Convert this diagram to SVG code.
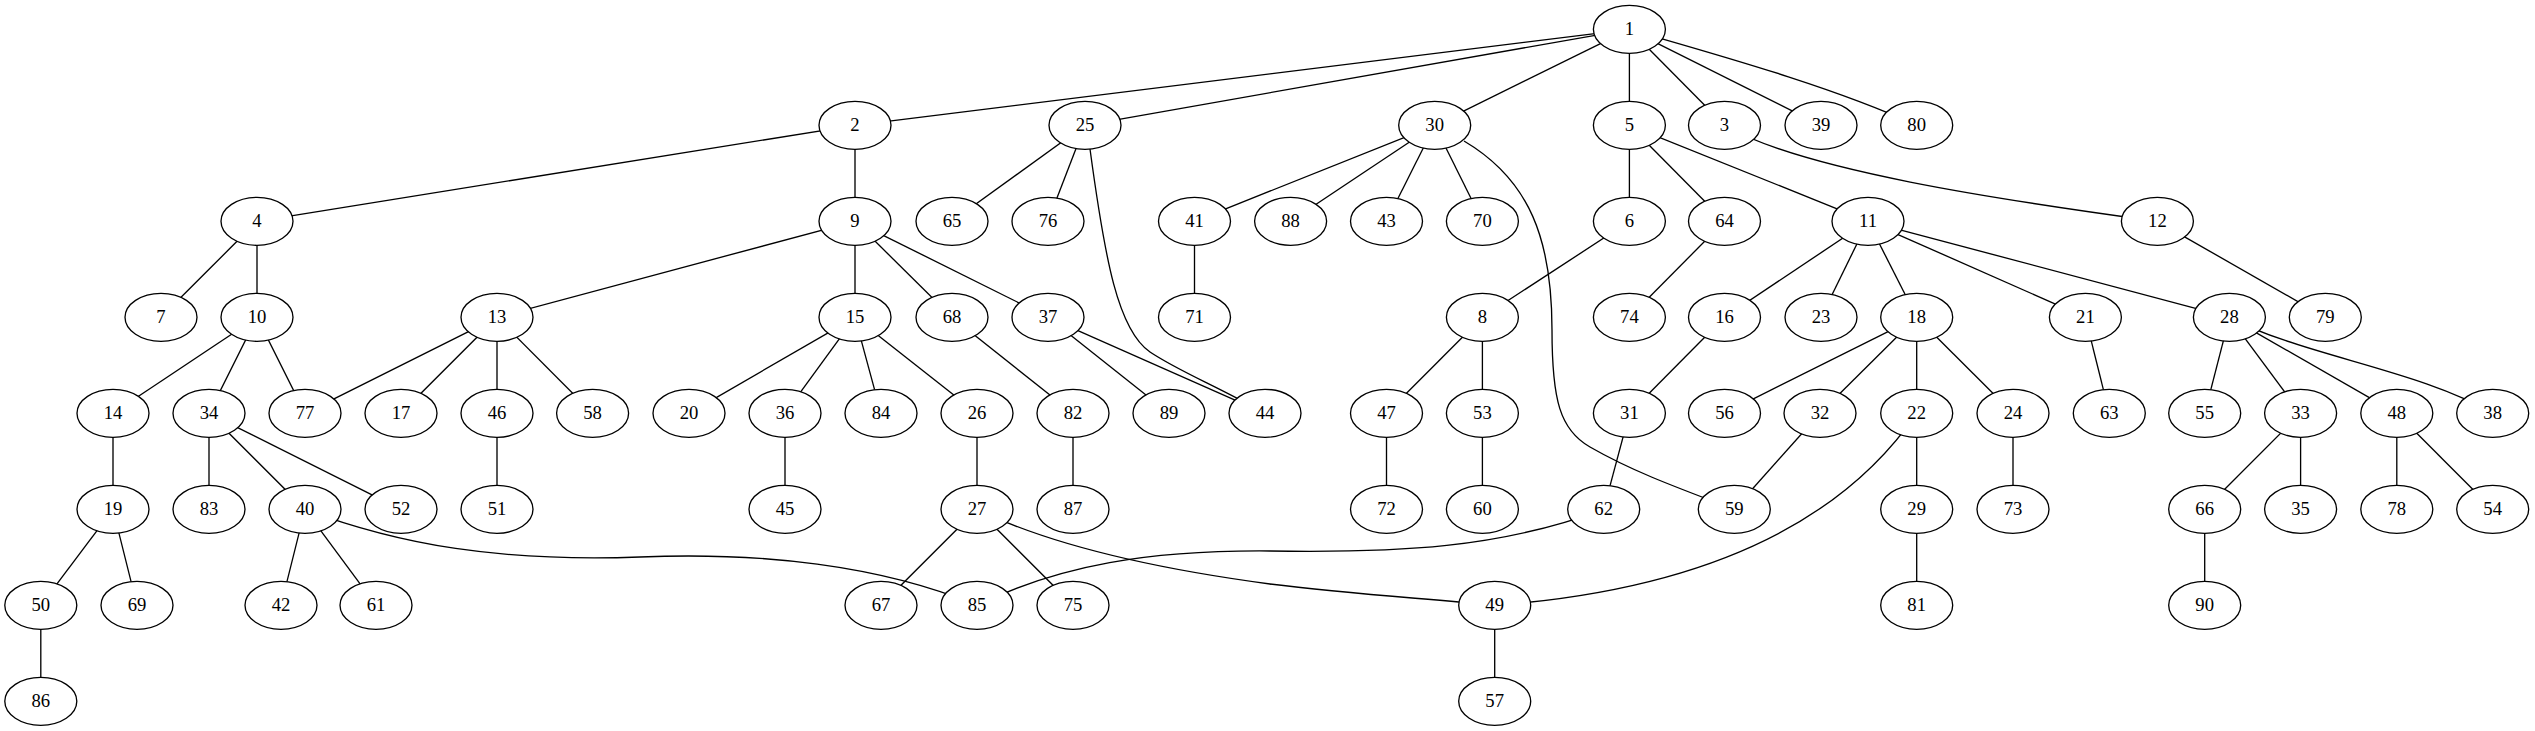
<svg xmlns="http://www.w3.org/2000/svg" width="2535" height="731" viewBox="0 0 2535 731">
<style>
.n ellipse{fill:#fff;stroke:#000;stroke-width:1.33}
.n text{font-family:"Liberation Serif","Times New Roman",serif;font-size:18.67px;text-anchor:middle;fill:#000}
#edges line,#edges path{stroke:#000;stroke-width:1.33;fill:none}
</style>
<rect width="2535" height="731" fill="#fff"/>
<g id="edges">
<line x1="1629.4" y1="29.3" x2="855" y2="125.3"/>
<line x1="1629.4" y1="29.3" x2="1085" y2="125.3"/>
<line x1="1629.4" y1="29.3" x2="1434.7" y2="125.3"/>
<line x1="1629.4" y1="29.3" x2="1629.4" y2="125.3"/>
<line x1="1629.4" y1="29.3" x2="1724.5" y2="125.3"/>
<line x1="1629.4" y1="29.3" x2="1821" y2="125.3"/>
<path d="M1629.4,29.3 C1700,50 1830,85 1916.7,125.3"/>
<line x1="855" y1="125.3" x2="257" y2="221.3"/>
<line x1="855" y1="125.3" x2="855" y2="221.3"/>
<line x1="1085" y1="125.3" x2="952" y2="221.3"/>
<line x1="1085" y1="125.3" x2="1048" y2="221.3"/>
<path d="M1090,149 C1105,260 1118,330 1150,352 C1180,372 1215,385 1265,413.3"/>
<line x1="1434.7" y1="125.3" x2="1194.5" y2="221.3"/>
<line x1="1434.7" y1="125.3" x2="1290.6" y2="221.3"/>
<line x1="1434.7" y1="125.3" x2="1386.5" y2="221.3"/>
<line x1="1434.7" y1="125.3" x2="1482.4" y2="221.3"/>
<path d="M1464,141 C1530,180 1552,240 1552,330 C1552,400 1560,430 1590,447 C1630,470 1670,485 1734.3,509.3"/>
<line x1="1629.4" y1="125.3" x2="1629.4" y2="221.3"/>
<line x1="1629.4" y1="125.3" x2="1724.5" y2="221.3"/>
<line x1="1629.4" y1="125.3" x2="1868" y2="221.3"/>
<path d="M1724.5,125.3 C1800,170 2000,200 2157.4,221.3"/>
<line x1="257" y1="221.3" x2="161" y2="317.3"/>
<line x1="257" y1="221.3" x2="257" y2="317.3"/>
<line x1="855" y1="221.3" x2="497" y2="317.3"/>
<line x1="855" y1="221.3" x2="855" y2="317.3"/>
<line x1="855" y1="221.3" x2="952" y2="317.3"/>
<line x1="855" y1="221.3" x2="1048" y2="317.3"/>
<line x1="1194.5" y1="221.3" x2="1194.5" y2="317.3"/>
<line x1="1629.4" y1="221.3" x2="1482.4" y2="317.3"/>
<line x1="1724.5" y1="221.3" x2="1629.4" y2="317.3"/>
<line x1="1868" y1="221.3" x2="1724.5" y2="317.3"/>
<line x1="1868" y1="221.3" x2="1821" y2="317.3"/>
<line x1="1868" y1="221.3" x2="1916.7" y2="317.3"/>
<line x1="1868" y1="221.3" x2="2085.4" y2="317.3"/>
<line x1="1868" y1="221.3" x2="2229.4" y2="317.3"/>
<line x1="2157.4" y1="221.3" x2="2325.3" y2="317.3"/>
<line x1="257" y1="317.3" x2="113" y2="413.3"/>
<line x1="257" y1="317.3" x2="209" y2="413.3"/>
<line x1="257" y1="317.3" x2="305" y2="413.3"/>
<line x1="497" y1="317.3" x2="305" y2="413.3"/>
<line x1="497" y1="317.3" x2="401" y2="413.3"/>
<line x1="497" y1="317.3" x2="497" y2="413.3"/>
<line x1="497" y1="317.3" x2="592.6" y2="413.3"/>
<line x1="855" y1="317.3" x2="689" y2="413.3"/>
<line x1="855" y1="317.3" x2="785" y2="413.3"/>
<line x1="855" y1="317.3" x2="881" y2="413.3"/>
<line x1="855" y1="317.3" x2="977" y2="413.3"/>
<line x1="952" y1="317.3" x2="1073" y2="413.3"/>
<line x1="1048" y1="317.3" x2="1169" y2="413.3"/>
<line x1="1048" y1="317.3" x2="1265" y2="413.3"/>
<line x1="1482.4" y1="317.3" x2="1386.5" y2="413.3"/>
<line x1="1482.4" y1="317.3" x2="1482.4" y2="413.3"/>
<line x1="1724.5" y1="317.3" x2="1629.4" y2="413.3"/>
<line x1="1916.7" y1="317.3" x2="1724.5" y2="413.3"/>
<line x1="1916.7" y1="317.3" x2="1820" y2="413.3"/>
<line x1="1916.7" y1="317.3" x2="1916.7" y2="413.3"/>
<line x1="1916.7" y1="317.3" x2="2013" y2="413.3"/>
<line x1="2085.4" y1="317.3" x2="2109.3" y2="413.3"/>
<line x1="2229.4" y1="317.3" x2="2204.7" y2="413.3"/>
<line x1="2229.4" y1="317.3" x2="2300.6" y2="413.3"/>
<line x1="2229.4" y1="317.3" x2="2396.8" y2="413.3"/>
<path d="M2229.4,317.3 C2300,355 2420,370 2492.7,413.3"/>
<line x1="113" y1="413.3" x2="113" y2="509.3"/>
<line x1="209" y1="413.3" x2="209" y2="509.3"/>
<line x1="209" y1="413.3" x2="305" y2="509.3"/>
<line x1="209" y1="413.3" x2="401" y2="509.3"/>
<line x1="497" y1="413.3" x2="497" y2="509.3"/>
<line x1="785" y1="413.3" x2="785" y2="509.3"/>
<line x1="977" y1="413.3" x2="977" y2="509.3"/>
<line x1="1073" y1="413.3" x2="1073" y2="509.3"/>
<line x1="1386.5" y1="413.3" x2="1386.5" y2="509.3"/>
<line x1="1482.4" y1="413.3" x2="1482.4" y2="509.3"/>
<line x1="1629.4" y1="413.3" x2="1603.7" y2="509.3"/>
<line x1="1820" y1="413.3" x2="1734.3" y2="509.3"/>
<line x1="1916.7" y1="413.3" x2="1916.7" y2="509.3"/>
<path d="M1916.7,413.3 C1840,525 1700,590 1494.7,605.3"/>
<line x1="2013" y1="413.3" x2="2013" y2="509.3"/>
<line x1="2300.6" y1="413.3" x2="2204.7" y2="509.3"/>
<line x1="2300.6" y1="413.3" x2="2300.6" y2="509.3"/>
<line x1="2396.8" y1="413.3" x2="2396.8" y2="509.3"/>
<line x1="2396.8" y1="413.3" x2="2492.7" y2="509.3"/>
<line x1="113" y1="509.3" x2="40.8" y2="605.3"/>
<line x1="113" y1="509.3" x2="137" y2="605.3"/>
<line x1="305" y1="509.3" x2="281" y2="605.3"/>
<line x1="305" y1="509.3" x2="376" y2="605.3"/>
<path d="M305,509.3 C400,545 500,562 640,557 C760,552 880,565 977,605.3"/>
<line x1="977" y1="509.3" x2="881" y2="605.3"/>
<line x1="977" y1="509.3" x2="1073" y2="605.3"/>
<path d="M977,509.3 C1050,545 1150,568 1270,584 C1350,594 1420,598 1494.7,605.3"/>
<path d="M1603.7,509.3 C1500,548 1400,553 1270,551 C1150,550 1060,565 977,605.3"/>
<line x1="1916.7" y1="509.3" x2="1916.7" y2="605.3"/>
<line x1="2204.7" y1="509.3" x2="2204.7" y2="605.3"/>
<line x1="1494.7" y1="605.3" x2="1494.7" y2="701.3"/>
<line x1="40.8" y1="605.3" x2="40.8" y2="701.3"/>
</g>
<g id="node1" class="n"><ellipse cx="1629.4" cy="29.3" rx="36" ry="24"/><text x="1629.4" y="35">1</text></g>
<g id="node2" class="n"><ellipse cx="855" cy="125.3" rx="36" ry="24"/><text x="855" y="131">2</text></g>
<g id="node25" class="n"><ellipse cx="1085" cy="125.3" rx="36" ry="24"/><text x="1085" y="131">25</text></g>
<g id="node30" class="n"><ellipse cx="1434.7" cy="125.3" rx="36" ry="24"/><text x="1434.7" y="131">30</text></g>
<g id="node5" class="n"><ellipse cx="1629.4" cy="125.3" rx="36" ry="24"/><text x="1629.4" y="131">5</text></g>
<g id="node3" class="n"><ellipse cx="1724.5" cy="125.3" rx="36" ry="24"/><text x="1724.5" y="131">3</text></g>
<g id="node39" class="n"><ellipse cx="1821" cy="125.3" rx="36" ry="24"/><text x="1821" y="131">39</text></g>
<g id="node80" class="n"><ellipse cx="1916.7" cy="125.3" rx="36" ry="24"/><text x="1916.7" y="131">80</text></g>
<g id="node4" class="n"><ellipse cx="257" cy="221.3" rx="36" ry="24"/><text x="257" y="227">4</text></g>
<g id="node9" class="n"><ellipse cx="855" cy="221.3" rx="36" ry="24"/><text x="855" y="227">9</text></g>
<g id="node65" class="n"><ellipse cx="952" cy="221.3" rx="36" ry="24"/><text x="952" y="227">65</text></g>
<g id="node76" class="n"><ellipse cx="1048" cy="221.3" rx="36" ry="24"/><text x="1048" y="227">76</text></g>
<g id="node41" class="n"><ellipse cx="1194.5" cy="221.3" rx="36" ry="24"/><text x="1194.5" y="227">41</text></g>
<g id="node88" class="n"><ellipse cx="1290.6" cy="221.3" rx="36" ry="24"/><text x="1290.6" y="227">88</text></g>
<g id="node43" class="n"><ellipse cx="1386.5" cy="221.3" rx="36" ry="24"/><text x="1386.5" y="227">43</text></g>
<g id="node70" class="n"><ellipse cx="1482.4" cy="221.3" rx="36" ry="24"/><text x="1482.4" y="227">70</text></g>
<g id="node6" class="n"><ellipse cx="1629.4" cy="221.3" rx="36" ry="24"/><text x="1629.4" y="227">6</text></g>
<g id="node64" class="n"><ellipse cx="1724.5" cy="221.3" rx="36" ry="24"/><text x="1724.5" y="227">64</text></g>
<g id="node11" class="n"><ellipse cx="1868" cy="221.3" rx="36" ry="24"/><text x="1868" y="227">11</text></g>
<g id="node12" class="n"><ellipse cx="2157.4" cy="221.3" rx="36" ry="24"/><text x="2157.4" y="227">12</text></g>
<g id="node7" class="n"><ellipse cx="161" cy="317.3" rx="36" ry="24"/><text x="161" y="323">7</text></g>
<g id="node10" class="n"><ellipse cx="257" cy="317.3" rx="36" ry="24"/><text x="257" y="323">10</text></g>
<g id="node13" class="n"><ellipse cx="497" cy="317.3" rx="36" ry="24"/><text x="497" y="323">13</text></g>
<g id="node15" class="n"><ellipse cx="855" cy="317.3" rx="36" ry="24"/><text x="855" y="323">15</text></g>
<g id="node68" class="n"><ellipse cx="952" cy="317.3" rx="36" ry="24"/><text x="952" y="323">68</text></g>
<g id="node37" class="n"><ellipse cx="1048" cy="317.3" rx="36" ry="24"/><text x="1048" y="323">37</text></g>
<g id="node71" class="n"><ellipse cx="1194.5" cy="317.3" rx="36" ry="24"/><text x="1194.5" y="323">71</text></g>
<g id="node8" class="n"><ellipse cx="1482.4" cy="317.3" rx="36" ry="24"/><text x="1482.4" y="323">8</text></g>
<g id="node74" class="n"><ellipse cx="1629.4" cy="317.3" rx="36" ry="24"/><text x="1629.4" y="323">74</text></g>
<g id="node16" class="n"><ellipse cx="1724.5" cy="317.3" rx="36" ry="24"/><text x="1724.5" y="323">16</text></g>
<g id="node23" class="n"><ellipse cx="1821" cy="317.3" rx="36" ry="24"/><text x="1821" y="323">23</text></g>
<g id="node18" class="n"><ellipse cx="1916.7" cy="317.3" rx="36" ry="24"/><text x="1916.7" y="323">18</text></g>
<g id="node21" class="n"><ellipse cx="2085.4" cy="317.3" rx="36" ry="24"/><text x="2085.4" y="323">21</text></g>
<g id="node28" class="n"><ellipse cx="2229.4" cy="317.3" rx="36" ry="24"/><text x="2229.4" y="323">28</text></g>
<g id="node79" class="n"><ellipse cx="2325.3" cy="317.3" rx="36" ry="24"/><text x="2325.3" y="323">79</text></g>
<g id="node14" class="n"><ellipse cx="113" cy="413.3" rx="36" ry="24"/><text x="113" y="419">14</text></g>
<g id="node34" class="n"><ellipse cx="209" cy="413.3" rx="36" ry="24"/><text x="209" y="419">34</text></g>
<g id="node77" class="n"><ellipse cx="305" cy="413.3" rx="36" ry="24"/><text x="305" y="419">77</text></g>
<g id="node17" class="n"><ellipse cx="401" cy="413.3" rx="36" ry="24"/><text x="401" y="419">17</text></g>
<g id="node46" class="n"><ellipse cx="497" cy="413.3" rx="36" ry="24"/><text x="497" y="419">46</text></g>
<g id="node58" class="n"><ellipse cx="592.6" cy="413.3" rx="36" ry="24"/><text x="592.6" y="419">58</text></g>
<g id="node20" class="n"><ellipse cx="689" cy="413.3" rx="36" ry="24"/><text x="689" y="419">20</text></g>
<g id="node36" class="n"><ellipse cx="785" cy="413.3" rx="36" ry="24"/><text x="785" y="419">36</text></g>
<g id="node84" class="n"><ellipse cx="881" cy="413.3" rx="36" ry="24"/><text x="881" y="419">84</text></g>
<g id="node26" class="n"><ellipse cx="977" cy="413.3" rx="36" ry="24"/><text x="977" y="419">26</text></g>
<g id="node82" class="n"><ellipse cx="1073" cy="413.3" rx="36" ry="24"/><text x="1073" y="419">82</text></g>
<g id="node89" class="n"><ellipse cx="1169" cy="413.3" rx="36" ry="24"/><text x="1169" y="419">89</text></g>
<g id="node44" class="n"><ellipse cx="1265" cy="413.3" rx="36" ry="24"/><text x="1265" y="419">44</text></g>
<g id="node47" class="n"><ellipse cx="1386.5" cy="413.3" rx="36" ry="24"/><text x="1386.5" y="419">47</text></g>
<g id="node53" class="n"><ellipse cx="1482.4" cy="413.3" rx="36" ry="24"/><text x="1482.4" y="419">53</text></g>
<g id="node31" class="n"><ellipse cx="1629.4" cy="413.3" rx="36" ry="24"/><text x="1629.4" y="419">31</text></g>
<g id="node56" class="n"><ellipse cx="1724.5" cy="413.3" rx="36" ry="24"/><text x="1724.5" y="419">56</text></g>
<g id="node32" class="n"><ellipse cx="1820" cy="413.3" rx="36" ry="24"/><text x="1820" y="419">32</text></g>
<g id="node22" class="n"><ellipse cx="1916.7" cy="413.3" rx="36" ry="24"/><text x="1916.7" y="419">22</text></g>
<g id="node24" class="n"><ellipse cx="2013" cy="413.3" rx="36" ry="24"/><text x="2013" y="419">24</text></g>
<g id="node63" class="n"><ellipse cx="2109.3" cy="413.3" rx="36" ry="24"/><text x="2109.3" y="419">63</text></g>
<g id="node55" class="n"><ellipse cx="2204.7" cy="413.3" rx="36" ry="24"/><text x="2204.7" y="419">55</text></g>
<g id="node33" class="n"><ellipse cx="2300.6" cy="413.3" rx="36" ry="24"/><text x="2300.6" y="419">33</text></g>
<g id="node48" class="n"><ellipse cx="2396.8" cy="413.3" rx="36" ry="24"/><text x="2396.8" y="419">48</text></g>
<g id="node38" class="n"><ellipse cx="2492.7" cy="413.3" rx="36" ry="24"/><text x="2492.7" y="419">38</text></g>
<g id="node19" class="n"><ellipse cx="113" cy="509.3" rx="36" ry="24"/><text x="113" y="515">19</text></g>
<g id="node83" class="n"><ellipse cx="209" cy="509.3" rx="36" ry="24"/><text x="209" y="515">83</text></g>
<g id="node40" class="n"><ellipse cx="305" cy="509.3" rx="36" ry="24"/><text x="305" y="515">40</text></g>
<g id="node52" class="n"><ellipse cx="401" cy="509.3" rx="36" ry="24"/><text x="401" y="515">52</text></g>
<g id="node51" class="n"><ellipse cx="497" cy="509.3" rx="36" ry="24"/><text x="497" y="515">51</text></g>
<g id="node45" class="n"><ellipse cx="785" cy="509.3" rx="36" ry="24"/><text x="785" y="515">45</text></g>
<g id="node27" class="n"><ellipse cx="977" cy="509.3" rx="36" ry="24"/><text x="977" y="515">27</text></g>
<g id="node87" class="n"><ellipse cx="1073" cy="509.3" rx="36" ry="24"/><text x="1073" y="515">87</text></g>
<g id="node72" class="n"><ellipse cx="1386.5" cy="509.3" rx="36" ry="24"/><text x="1386.5" y="515">72</text></g>
<g id="node60" class="n"><ellipse cx="1482.4" cy="509.3" rx="36" ry="24"/><text x="1482.4" y="515">60</text></g>
<g id="node62" class="n"><ellipse cx="1603.7" cy="509.3" rx="36" ry="24"/><text x="1603.7" y="515">62</text></g>
<g id="node59" class="n"><ellipse cx="1734.3" cy="509.3" rx="36" ry="24"/><text x="1734.3" y="515">59</text></g>
<g id="node29" class="n"><ellipse cx="1916.7" cy="509.3" rx="36" ry="24"/><text x="1916.7" y="515">29</text></g>
<g id="node73" class="n"><ellipse cx="2013" cy="509.3" rx="36" ry="24"/><text x="2013" y="515">73</text></g>
<g id="node66" class="n"><ellipse cx="2204.7" cy="509.3" rx="36" ry="24"/><text x="2204.7" y="515">66</text></g>
<g id="node35" class="n"><ellipse cx="2300.6" cy="509.3" rx="36" ry="24"/><text x="2300.6" y="515">35</text></g>
<g id="node78" class="n"><ellipse cx="2396.8" cy="509.3" rx="36" ry="24"/><text x="2396.8" y="515">78</text></g>
<g id="node54" class="n"><ellipse cx="2492.7" cy="509.3" rx="36" ry="24"/><text x="2492.7" y="515">54</text></g>
<g id="node50" class="n"><ellipse cx="40.8" cy="605.3" rx="36" ry="24"/><text x="40.8" y="611">50</text></g>
<g id="node69" class="n"><ellipse cx="137" cy="605.3" rx="36" ry="24"/><text x="137" y="611">69</text></g>
<g id="node42" class="n"><ellipse cx="281" cy="605.3" rx="36" ry="24"/><text x="281" y="611">42</text></g>
<g id="node61" class="n"><ellipse cx="376" cy="605.3" rx="36" ry="24"/><text x="376" y="611">61</text></g>
<g id="node67" class="n"><ellipse cx="881" cy="605.3" rx="36" ry="24"/><text x="881" y="611">67</text></g>
<g id="node85" class="n"><ellipse cx="977" cy="605.3" rx="36" ry="24"/><text x="977" y="611">85</text></g>
<g id="node75" class="n"><ellipse cx="1073" cy="605.3" rx="36" ry="24"/><text x="1073" y="611">75</text></g>
<g id="node49" class="n"><ellipse cx="1494.7" cy="605.3" rx="36" ry="24"/><text x="1494.7" y="611">49</text></g>
<g id="node81" class="n"><ellipse cx="1916.7" cy="605.3" rx="36" ry="24"/><text x="1916.7" y="611">81</text></g>
<g id="node90" class="n"><ellipse cx="2204.7" cy="605.3" rx="36" ry="24"/><text x="2204.7" y="611">90</text></g>
<g id="node86" class="n"><ellipse cx="40.8" cy="701.3" rx="36" ry="24"/><text x="40.8" y="707">86</text></g>
<g id="node57" class="n"><ellipse cx="1494.7" cy="701.3" rx="36" ry="24"/><text x="1494.7" y="707">57</text></g>
</svg>
